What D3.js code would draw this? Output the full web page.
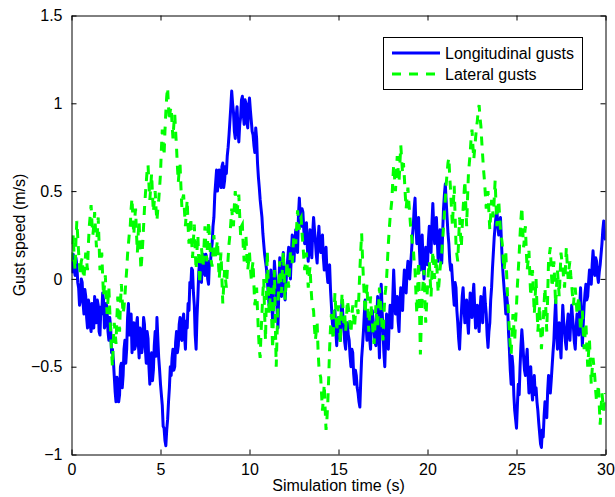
<!DOCTYPE html>
<html>
<head>
<meta charset="utf-8">
<script src="https://cdn.jsdelivr.net/npm/d3@7"></script>
<style>
  html, body { margin: 0; padding: 0; background: #fff; }
  svg { display: block; font-family: "Liberation Sans", Arial, Helvetica, sans-serif; }
</style>
</head>
<body>
<svg id="chart" width="615" height="497"></svg>
<script>
// Sample spacing of the gust records (s)
const dt = 0.05;

// Longitudinal gust speed (m/s), one sample every 0.05 s from 0 to 30 s (20 per row = 1 s)
const longitudinal = [
  0.10, 0.04, 0.14, 0.06, 0.02, 0.12, 0.08, -0.02, -0.05, -0.15, -0.12, 0.00, -0.02, -0.14, -0.20, -0.06, -0.10, -0.22, -0.28, -0.12,
  -0.15, -0.26, -0.30, -0.14, -0.18, -0.28, -0.10, -0.20, -0.25, -0.12, -0.15, -0.30, -0.32, -0.16, -0.20, -0.08, -0.12, -0.28, -0.26, -0.14,
  -0.18, -0.30, -0.35, -0.22, -0.28, -0.42, -0.40, -0.46, -0.55, -0.64, -0.70, -0.56, -0.60, -0.70, -0.66, -0.50, -0.48, -0.62, -0.55, -0.40,
  -0.35, -0.48, -0.40, -0.22, -0.14, -0.32, -0.28, -0.20, -0.42, -0.30, -0.25, -0.40, -0.38, -0.26, -0.22, -0.36, -0.45, -0.28, -0.30, -0.42,
  -0.36, -0.22, -0.26, -0.40, -0.48, -0.30, -0.34, -0.50, -0.60, -0.46, -0.42, -0.58, -0.52, -0.38, -0.30, -0.44, -0.22, -0.34, -0.45, -0.52,
  -0.60, -0.66, -0.72, -0.84, -0.85, -0.92, -0.95, -0.86, -0.80, -0.70, -0.62, -0.50, -0.55, -0.45, -0.40, -0.52, -0.50, -0.36, -0.30, -0.42,
  -0.38, -0.26, -0.22, -0.34, -0.35, -0.24, -0.20, -0.32, -0.40, -0.24, -0.28, -0.14, -0.18, -0.02, -0.05, 0.06, 0.05, -0.08, -0.15, -0.32,
  -0.40, -0.22, -0.10, 0.04, 0.10, 0.00, -0.02, 0.10, 0.14, 0.04, 0.02, 0.14, 0.12, 0.00, -0.03, 0.10, 0.08, 0.16, 0.20, 0.30,
  0.35, 0.48, 0.55, 0.62, 0.50, 0.58, 0.62, 0.54, 0.52, 0.64, 0.66, 0.52, 0.56, 0.64, 0.60, 0.70, 0.75, 0.82, 0.90, 0.98,
  1.07, 1.00, 0.95, 0.84, 0.80, 0.92, 0.98, 0.86, 0.78, 0.88, 0.92, 1.02, 1.04, 0.94, 0.88, 1.02, 1.00, 0.90, 0.86, 0.98,
  1.03, 0.96, 0.90, 0.84, 0.82, 0.76, 0.72, 0.86, 0.80, 0.66, 0.58, 0.52, 0.45, 0.40, 0.35, 0.26, 0.20, 0.14, 0.10, 0.06,
  0.00, -0.08, -0.15, -0.02, 0.05, -0.12, -0.25, -0.06, 0.10, 0.02, -0.05, -0.18, -0.28, -0.04, 0.12, 0.00, -0.10, 0.04, 0.15, 0.00,
  -0.12, -0.02, 0.05, 0.12, 0.18, 0.06, 0.00, 0.14, 0.25, 0.16, 0.10, 0.22, 0.28, 0.20, 0.15, 0.36, 0.46, 0.36, 0.30, 0.40,
  0.38, 0.28, 0.20, 0.30, 0.32, 0.18, 0.10, 0.20, 0.28, 0.18, 0.12, 0.26, 0.35, 0.28, 0.22, 0.14, 0.09, 0.22, 0.30, 0.20,
  0.15, 0.22, 0.25, 0.12, 0.05, 0.14, 0.18, 0.04, -0.02, 0.06, 0.08, -0.06, -0.15, -0.24, -0.30, -0.20, -0.18, -0.30, -0.38, -0.28,
  -0.22, -0.30, -0.35, -0.20, -0.12, -0.22, -0.28, -0.36, -0.40, -0.30, -0.25, -0.32, -0.35, -0.44, -0.50, -0.40, -0.42, -0.54, -0.60, -0.52,
  -0.55, -0.62, -0.65, -0.70, -0.73, -0.58, -0.45, -0.38, -0.30, -0.20, -0.12, -0.26, -0.35, -0.28, -0.22, -0.34, -0.40, -0.26, -0.18, -0.24,
  -0.30, -0.36, -0.38, -0.22, -0.10, -0.30, -0.45, -0.20, -0.03, -0.18, -0.30, -0.42, -0.50, -0.34, -0.20, -0.32, -0.40, -0.24, -0.15, -0.22,
  -0.28, -0.10, 0.05, -0.08, -0.20, -0.14, -0.10, -0.24, -0.30, -0.14, -0.05, -0.12, -0.18, -0.04, 0.05, -0.02, -0.08, 0.04, 0.10, 0.04,
  0.00, 0.08, 0.15, 0.24, 0.30, 0.40, 0.46, 0.30, 0.20, 0.30, 0.35, 0.16, 0.05, 0.18, 0.25, 0.10, 0.00, 0.10, 0.18, 0.12,
  0.08, 0.22, 0.30, 0.20, 0.15, 0.32, 0.43, 0.30, 0.20, 0.28, 0.35, 0.22, 0.10, 0.20, 0.28, 0.16, 0.09, 0.26, 0.40, 0.48,
  0.54, 0.44, 0.35, 0.26, 0.20, 0.10, 0.05, 0.08, 0.00, -0.08, -0.15, -0.02, -0.05, -0.18, -0.25, -0.34, -0.40, -0.28, -0.20, -0.10,
  -0.05, -0.16, -0.25, -0.18, -0.12, -0.24, -0.31, -0.18, -0.08, -0.14, -0.22, -0.10, -0.03, -0.16, -0.28, -0.20, -0.15, -0.24, -0.30, -0.18,
  -0.10, -0.18, -0.25, -0.12, -0.05, -0.14, -0.20, -0.32, -0.39, -0.30, -0.25, -0.12, -0.05, 0.06, 0.15, 0.24, 0.30, 0.36, 0.39, 0.30,
  0.25, 0.32, 0.35, 0.22, 0.10, 0.02, -0.05, -0.12, -0.20, -0.10, -0.15, -0.30, -0.40, -0.52, -0.60, -0.44, -0.50, -0.66, -0.75, -0.80,
  -0.85, -0.72, -0.60, -0.66, -0.50, -0.38, -0.29, -0.36, -0.45, -0.52, -0.55, -0.46, -0.40, -0.54, -0.65, -0.58, -0.50, -0.62, -0.69, -0.60,
  -0.55, -0.66, -0.62, -0.70, -0.75, -0.82, -0.88, -0.94, -0.96, -0.86, -0.90, -0.78, -0.70, -0.76, -0.79, -0.64, -0.55, -0.60, -0.65, -0.58,
  -0.50, -0.42, -0.35, -0.22, -0.12, -0.28, -0.40, -0.32, -0.25, -0.36, -0.45, -0.28, -0.15, -0.24, -0.30, -0.36, -0.40, -0.26, -0.20, -0.30,
  -0.35, -0.24, -0.15, -0.22, -0.28, -0.36, -0.40, -0.28, -0.20, -0.26, -0.32, -0.16, -0.05, -0.24, -0.38, -0.26, -0.15, -0.08, -0.03, -0.12,
  -0.10, -0.02, 0.05, 0.00, -0.03, 0.08, 0.16, 0.08, 0.02, 0.12, 0.10, 0.02, -0.02, 0.04, 0.08, 0.14, 0.20, 0.28, 0.33, 0.26,
  0.22
];

// Lateral gust speed (m/s), same sampling
const lateral = [
  0.10, 0.18, 0.25, 0.12, 0.05, 0.22, 0.33, 0.24, 0.15, 0.08, 0.03, 0.10, 0.12, 0.04, 0.00, 0.08, 0.15, 0.10, 0.05, 0.20,
  0.30, 0.36, 0.42, 0.32, 0.25, 0.30, 0.38, 0.28, 0.18, 0.26, 0.35, 0.20, 0.05, 0.10, 0.15, 0.02, -0.10, -0.04, 0.02, -0.10,
  -0.20, -0.12, -0.05, -0.18, -0.30, -0.42, -0.50, -0.36, -0.25, -0.30, -0.37, -0.22, -0.10, -0.22, -0.30, -0.14, -0.03, -0.12, -0.20, -0.16,
  -0.10, -0.02, 0.05, 0.14, 0.20, 0.26, 0.30, 0.40, 0.46, 0.34, 0.25, 0.34, 0.40, 0.26, 0.15, 0.26, 0.33, 0.18, 0.05, 0.12,
  0.20, 0.30, 0.40, 0.48, 0.55, 0.62, 0.65, 0.54, 0.45, 0.52, 0.60, 0.48, 0.38, 0.44, 0.50, 0.40, 0.33, 0.40, 0.45, 0.52,
  0.60, 0.74, 0.85, 0.78, 0.70, 0.84, 0.95, 1.04, 1.09, 0.98, 0.90, 0.96, 0.98, 0.88, 0.80, 0.88, 0.94, 0.84, 0.75, 0.64,
  0.55, 0.62, 0.65, 0.52, 0.41, 0.46, 0.48, 0.38, 0.30, 0.38, 0.45, 0.30, 0.20, 0.28, 0.35, 0.22, 0.12, 0.22, 0.31, 0.16,
  0.05, 0.16, 0.25, 0.10, -0.03, 0.08, 0.18, 0.12, 0.08, 0.20, 0.30, 0.18, 0.10, 0.22, 0.33, 0.24, 0.15, 0.10, 0.07, 0.16,
  0.25, 0.18, 0.12, 0.18, 0.22, 0.10, 0.00, 0.08, 0.15, 0.00, -0.14, -0.04, 0.05, 0.00, -0.05, 0.04, 0.12, 0.20, 0.25, 0.32,
  0.40, 0.34, 0.30, 0.42, 0.50, 0.42, 0.35, 0.44, 0.48, 0.36, 0.25, 0.30, 0.31, 0.18, 0.10, 0.20, 0.25, 0.14, 0.05, 0.10,
  0.15, 0.06, 0.00, 0.06, 0.10, -0.04, -0.15, -0.10, -0.05, -0.18, -0.30, -0.40, -0.45, -0.30, -0.20, -0.08, 0.00, -0.20, -0.35, -0.08,
  0.16, -0.02, -0.20, -0.12, -0.05, -0.24, -0.40, -0.16, 0.05, -0.24, -0.50, -0.32, -0.15, -0.02, 0.10, 0.00, -0.08, 0.06, 0.16, 0.02,
  -0.12, -0.02, 0.10, 0.02, -0.05, 0.06, 0.15, 0.12, 0.09, 0.18, 0.25, 0.22, 0.20, 0.30, 0.39, 0.32, 0.28, 0.34, 0.35, 0.26,
  0.20, 0.12, 0.05, 0.10, 0.15, 0.04, -0.05, 0.02, 0.07, -0.04, -0.12, -0.16, -0.18, -0.28, -0.35, -0.30, -0.25, -0.40, -0.50, -0.54,
  -0.56, -0.66, -0.75, -0.68, -0.60, -0.74, -0.86, -0.80, -0.70, -0.56, -0.40, -0.28, -0.20, -0.28, -0.35, -0.20, -0.08, -0.18, -0.30, -0.22,
  -0.15, -0.26, -0.37, -0.22, -0.08, -0.16, -0.25, -0.20, -0.30, -0.22, -0.12, -0.16, -0.20, -0.26, -0.31, -0.22, -0.15, -0.22, -0.28, -0.20,
  -0.12, -0.16, -0.20, -0.08, 0.05, 0.16, 0.26, 0.12, 0.00, -0.10, -0.20, -0.10, -0.03, -0.16, -0.30, -0.20, -0.10, -0.18, -0.25, -0.32,
  -0.37, -0.26, -0.15, -0.22, -0.28, -0.16, -0.05, -0.12, -0.20, -0.28, -0.35, -0.22, -0.10, -0.06, 0.00, 0.10, 0.20, 0.28, 0.35, 0.40,
  0.45, 0.56, 0.65, 0.58, 0.50, 0.60, 0.70, 0.62, 0.55, 0.66, 0.76, 0.68, 0.60, 0.66, 0.58, 0.48, 0.40, 0.46, 0.52, 0.44,
  0.37, 0.30, 0.25, 0.20, 0.18, 0.10, 0.05, -0.08, -0.20, -0.04, 0.10, -0.16, -0.43, -0.26, -0.10, -0.02, 0.05, -0.10, -0.25, -0.14,
  -0.05, 0.04, 0.10, 0.00, -0.10, 0.04, 0.16, 0.08, 0.00, 0.06, 0.12, 0.02, -0.08, -0.02, 0.05, 0.10, 0.15, 0.22, 0.30, 0.38,
  0.45, 0.54, 0.60, 0.66, 0.69, 0.58, 0.50, 0.40, 0.30, 0.42, 0.53, 0.36, 0.20, 0.14, 0.10, 0.22, 0.35, 0.26, 0.18, 0.30,
  0.40, 0.48, 0.56, 0.42, 0.30, 0.46, 0.60, 0.66, 0.72, 0.80, 0.85, 0.76, 0.68, 0.74, 0.80, 0.86, 0.90, 0.96, 0.99, 0.92,
  0.87, 0.78, 0.70, 0.62, 0.56, 0.48, 0.40, 0.46, 0.50, 0.38, 0.28, 0.36, 0.45, 0.40, 0.35, 0.46, 0.56, 0.42, 0.30, 0.38,
  0.45, 0.36, 0.28, 0.24, 0.20, 0.12, 0.05, 0.10, 0.15, 0.02, -0.10, -0.20, -0.30, -0.38, -0.43, -0.30, -0.20, -0.28, -0.35, -0.24,
  -0.15, -0.04, 0.05, 0.14, 0.25, 0.34, 0.41, 0.28, 0.18, 0.24, 0.30, 0.16, 0.05, 0.10, 0.16, 0.02, -0.10, -0.02, 0.05, -0.08,
  -0.20, -0.10, 0.00, -0.16, -0.30, -0.22, -0.15, -0.28, -0.40, -0.32, -0.25, -0.14, -0.05, -0.18, -0.30, -0.10, 0.10, 0.14, 0.18, 0.06,
  -0.05, 0.02, 0.10, -0.02, -0.15, -0.04, 0.05, -0.02, -0.10, 0.02, 0.15, 0.10, 0.07, 0.00, -0.05, 0.06, 0.18, 0.08, 0.00, 0.06,
  0.10, 0.02, -0.03, -0.10, -0.15, -0.08, -0.05, -0.12, -0.20, -0.14, -0.10, -0.20, -0.30, -0.24, -0.18, -0.30, -0.40, -0.32, -0.25, -0.38,
  -0.50, -0.42, -0.35, -0.48, -0.60, -0.52, -0.45, -0.50, -0.56, -0.64, -0.70, -0.66, -0.60, -0.72, -0.83, -0.74, -0.65, -0.70, -0.75, -0.70,
  -0.65
];

const xTicks = [0, 5, 10, 15, 20, 25, 30];
const yTicks = [-1, -0.5, 0, 0.5, 1, 1.5];
const seriesNames = ["Longitudinal gusts", "Lateral gusts"];

const svg = d3.select("#chart");
const plotLeft = 71.5, plotRight = 605.5, plotTop = 15.5, plotBottom = 454.5;
const fontSize = 16;

const x = d3.scaleLinear().domain([0, 30]).range([plotLeft, plotRight]);
const y = d3.scaleLinear().domain([-1, 1.5]).range([plotBottom, plotTop]);

const fmt = v => (v < 0 ? "\u2212" + Math.abs(v) : String(v));

svg.append("defs").append("clipPath").attr("id", "plotArea")
  .append("rect").attr("x", plotLeft).attr("y", plotTop)
  .attr("width", plotRight - plotLeft).attr("height", plotBottom - plotTop);

// Gust traces
const line = d3.line().x((d, i) => x(i * dt)).y(d => y(d));
const plot = svg.append("g").attr("clip-path", "url(#plotArea)");
plot.append("path").datum(longitudinal)
  .attr("d", line).attr("fill", "none")
  .attr("stroke", "#0000ff").attr("stroke-width", 3)
  .attr("stroke-linejoin", "round");
plot.append("path").datum(lateral)
  .attr("d", line).attr("fill", "none")
  .attr("stroke", "#00ff00").attr("stroke-width", 3)
  .attr("stroke-dasharray", "9,8");

// Axes: ticks point inward on all four sides
const tickFont = g => g.selectAll("text")
  .attr("font-size", fontSize).attr("fill", "#000")
  .attr("font-family", "'Liberation Sans', Arial, sans-serif");

const bottomAxis = svg.append("g").attr("transform", `translate(0,${plotBottom})`)
  .call(d3.axisBottom(x).tickValues(xTicks).tickFormat(fmt)
    .tickSizeInner(-5).tickSizeOuter(0).tickPadding(9));
bottomAxis.call(tickFont);

const leftAxis = svg.append("g").attr("transform", `translate(${plotLeft},0)`)
  .call(d3.axisLeft(y).tickValues(yTicks).tickFormat(fmt)
    .tickSizeInner(-5).tickSizeOuter(0).tickPadding(9));
leftAxis.call(tickFont);

const topAxis = svg.append("g").attr("transform", `translate(0,${plotTop})`)
  .call(d3.axisTop(x).tickValues(xTicks).tickFormat("")
    .tickSizeInner(-5).tickSizeOuter(0));

const rightAxis = svg.append("g").attr("transform", `translate(${plotRight},0)`)
  .call(d3.axisRight(y).tickValues(yTicks).tickFormat("")
    .tickSizeInner(-5).tickSizeOuter(0));

[bottomAxis, leftAxis, topAxis, rightAxis].forEach(g => {
  g.select(".domain").attr("stroke", "#000").attr("stroke-width", 1);
  g.selectAll(".tick line").attr("stroke", "#000");
});

// Axis titles
svg.append("text")
  .attr("x", (plotLeft + plotRight) / 2).attr("y", 491)
  .attr("text-anchor", "middle").attr("font-size", fontSize)
  .text("Simulation time (s)");

svg.append("text")
  .attr("transform", `translate(25,${(plotTop + plotBottom) / 2}) rotate(-90)`)
  .attr("text-anchor", "middle").attr("font-size", fontSize)
  .text("Gust speed (m/s)");

// Legend
const legend = svg.append("g");
legend.append("rect")
  .attr("x", 383.5).attr("y", 37.5).attr("width", 199).attr("height", 52)
  .attr("fill", "#fff").attr("stroke", "#000").attr("stroke-width", 1);

const legendRows = [
  { name: seriesNames[0], color: "#0000ff", dash: null, cy: 53 },
  { name: seriesNames[1], color: "#00ff00", dash: "9,8", cy: 74 }
];
legendRows.forEach(r => {
  legend.append("line")
    .attr("x1", 392).attr("x2", 440).attr("y1", r.cy).attr("y2", r.cy)
    .attr("stroke", r.color).attr("stroke-width", 3)
    .attr("stroke-dasharray", r.dash);
  legend.append("text")
    .attr("x", 445).attr("y", r.cy + 5.5).attr("font-size", fontSize)
    .text(r.name);
});
</script>
</body>
</html>
